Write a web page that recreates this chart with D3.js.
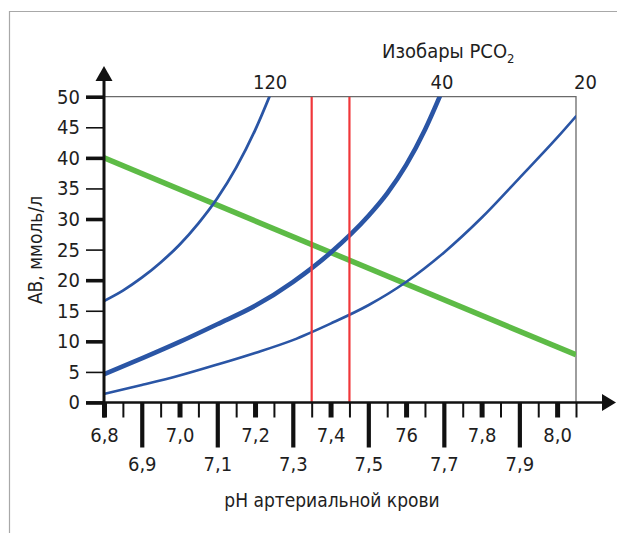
<!DOCTYPE html>
<html><head><meta charset="utf-8">
<script src="https://cdn.jsdelivr.net/npm/d3@7/dist/d3.min.js"></script>
<style>
body{margin:0;background:#fff}
text{font-family:"Liberation Sans Narrow","DejaVu Sans Condensed","Arial Narrow",sans-serif;fill:#1e1e1e}
</style>
</head><body><svg id="c" width="617" height="533"></svg>
<script>
// ---- data ----
const phTickValues = [6.8, 6.9, 7.0, 7.1, 7.2, 7.3, 7.4, 7.5, 7.6, 7.7, 7.8, 7.9, 8.0];
const phTickLabels = ["6,8", "6,9", "7,0", "7,1", "7,2", "7,3", "7,4", "7,5", "76", "7,7", "7,8", "7,9", "8,0"];
const phMinorTicks = [6.85, 6.95, 7.05, 7.15, 7.25, 7.35, 7.45, 7.55, 7.65, 7.75, 7.85, 7.95, 8.05];
const abTickValues = [0, 5, 10, 15, 20, 25, 30, 35, 40, 45, 50];

const isobarNames = ["120", "40", "20"];
const isobarLabelPH = [7.24, 7.695, 8.075];

const isobar120PH = [6.80, 6.85, 6.90, 6.95, 7.00, 7.05, 7.10, 7.15, 7.20, 7.25];
const isobar120AB = [16.6, 18.3, 20.4, 22.9, 25.8, 29.3, 33.4, 38.4, 44.5, 51.8];

const isobar40PH = [6.80, 6.90, 7.00, 7.10, 7.20, 7.30, 7.40, 7.50, 7.55, 7.60, 7.65, 7.70];
const isobar40AB = [4.6, 7.2, 9.9, 12.8, 15.8, 19.7, 24.5, 30.5, 34.2, 38.8, 44.6, 51.6];

const isobar20PH = [6.80, 6.90, 7.00, 7.10, 7.20, 7.30, 7.40, 7.50, 7.60, 7.70, 7.80, 7.90, 8.00, 8.05];
const isobar20AB = [1.4, 2.85, 4.4, 6.2, 8.1, 10.2, 12.9, 15.9, 19.7, 24.5, 30.2, 36.7, 43.3, 46.8];

const bufferLinePH = [6.8, 8.05];
const bufferLineAB = [40, 7.8];

const normalPH = [7.35, 7.45];

// ---- chart ----
const svg = d3.select("#c");
const x = d3.scaleLinear().domain([6.8, 8.05]).range([104, 576]);
const y = d3.scaleLinear().domain([0, 50]).range([402.5, 96.7]);

const blue = "#2a55a5", green = "#5dbb46", red = "#f0373a";

// outer frame
svg.append("path").attr("d", "M9.5,533V11.5H617").attr("fill", "none").attr("stroke", "#a8a8a8").attr("stroke-width", 1.2);

// plot frame (top + right)
svg.append("path")
  .attr("d", `M${x(6.8)},${y(50)}H${x(8.05)}V${y(0)}`)
  .attr("fill", "none").attr("stroke", "#6a6a6a").attr("stroke-width", 1.3);

svg.append("clipPath").attr("id", "clip").append("rect")
  .attr("x", x(6.8)).attr("y", y(50)).attr("width", x(8.05) - x(6.8)).attr("height", y(0) - y(50));

const plot = svg.append("g").attr("clip-path", "url(#clip)");
const line = d3.line().x(d => x(d[0])).y(d => y(d[1])).curve(d3.curveMonotoneX);

// green line
plot.append("path").datum(d3.zip(bufferLinePH, bufferLineAB))
  .attr("d", line).attr("fill", "none").attr("stroke", green).attr("stroke-width", 5.5);

const isobars = [
  {ph: isobar120PH, ab: isobar120AB, w: 2.8},
  {ph: isobar40PH, ab: isobar40AB, w: 4.6},
  {ph: isobar20PH, ab: isobar20AB, w: 2.6}
];
isobars.forEach(s => {
  plot.append("path").datum(d3.zip(s.ph, s.ab))
    .attr("d", line).attr("fill", "none").attr("stroke", blue).attr("stroke-width", s.w)
    .attr("stroke-linecap", "round");
});

// red vertical lines
plot.selectAll(".red").data(normalPH).enter().append("line")
  .attr("x1", d => x(d)).attr("x2", d => x(d)).attr("y1", y(50)).attr("y2", y(0))
  .attr("stroke", red).attr("stroke-width", 2.2);

// ---- Y axis ----
const yAxis = d3.axisLeft(y).tickValues(abTickValues).tickSize(18).tickPadding(6).tickFormat(d3.format("d"));
const gy = svg.append("g").attr("transform", `translate(${x(6.8)},0)`).call(yAxis);
gy.select(".domain").remove();
gy.selectAll(".tick line").attr("stroke", "#111").attr("stroke-width", d => d % 10 === 0 ? 3.6 : 1.6);
gy.selectAll(".tick text").attr("font-size", 20).attr("fill", "#1e1e1e").attr("font-family", null);

// ---- X axis ----
const allPh = phTickValues.concat(phMinorTicks).sort((a, b) => a - b);
const labelOf = v => { const i = phTickValues.findIndex(t => Math.abs(t - v) < 1e-6); return i >= 0 ? phTickLabels[i] : ""; };
const xAxis = d3.axisBottom(x).tickValues(allPh).tickSize(15).tickPadding(0).tickFormat(labelOf);
const gx = svg.append("g").attr("transform", `translate(0,${y(0)})`).call(xAxis);
gx.select(".domain").remove();
const kind = v => {
  const i = phTickValues.findIndex(t => Math.abs(t - v) < 1e-6);
  if (i < 0) return "minor";
  return i % 2 === 0 ? "even" : "odd";
};
gx.selectAll(".tick line")
  .attr("stroke", "#111")
  .attr("y2", d => kind(d) === "odd" ? 45 : 15)
  .attr("stroke-width", d => kind(d) === "minor" ? 2 : (kind(d) === "even" ? 5 : 4.2));
gx.selectAll(".tick text")
  .attr("font-size", 20).attr("fill", "#1e1e1e").attr("font-family", null)
  .attr("dy", null)
  .attr("y", d => kind(d) === "odd" ? 68 : 39);

// axis lines with arrows
svg.append("line").attr("x1", 86).attr("x2", 604).attr("y1", y(0)).attr("y2", y(0))
  .attr("stroke", "#111").attr("stroke-width", 2.6);
svg.append("path").attr("d", `M616,${y(0)}L602,${y(0) - 8.5}L602,${y(0) + 8.5}Z`).attr("fill", "#111");
svg.append("line").attr("x1", x(6.8)).attr("x2", x(6.8)).attr("y1", y(0) + 15).attr("y2", 80)
  .attr("stroke", "#111").attr("stroke-width", 3);
svg.append("path").attr("d", `M${x(6.8)},66L${x(6.8) - 8.5},81L${x(6.8) + 8.5},81Z`).attr("fill", "#111");

// isobar labels (top)
svg.selectAll(".iso").data(isobarNames).enter().append("text")
  .attr("x", (d, i) => x(isobarLabelPH[i])).attr("y", 89)
  .attr("text-anchor", "middle").attr("font-size", 20).text(d => d);

// titles
const t = svg.append("text").attr("x", 382).attr("y", 58).attr("font-size", 20);
t.append("tspan").text("Изобары PCO");
t.append("tspan").attr("font-size", 13).attr("dy", 5).text("2");

svg.append("text").attr("x", 332).attr("y", 507).attr("text-anchor", "middle").attr("font-size", 19)
  .text("pH артериальной крови");

svg.append("text").attr("transform", "translate(42,250) rotate(-90)").attr("text-anchor", "middle")
  .attr("font-size", 19).text("АВ, ммоль/л");
</script>
</body></html>
